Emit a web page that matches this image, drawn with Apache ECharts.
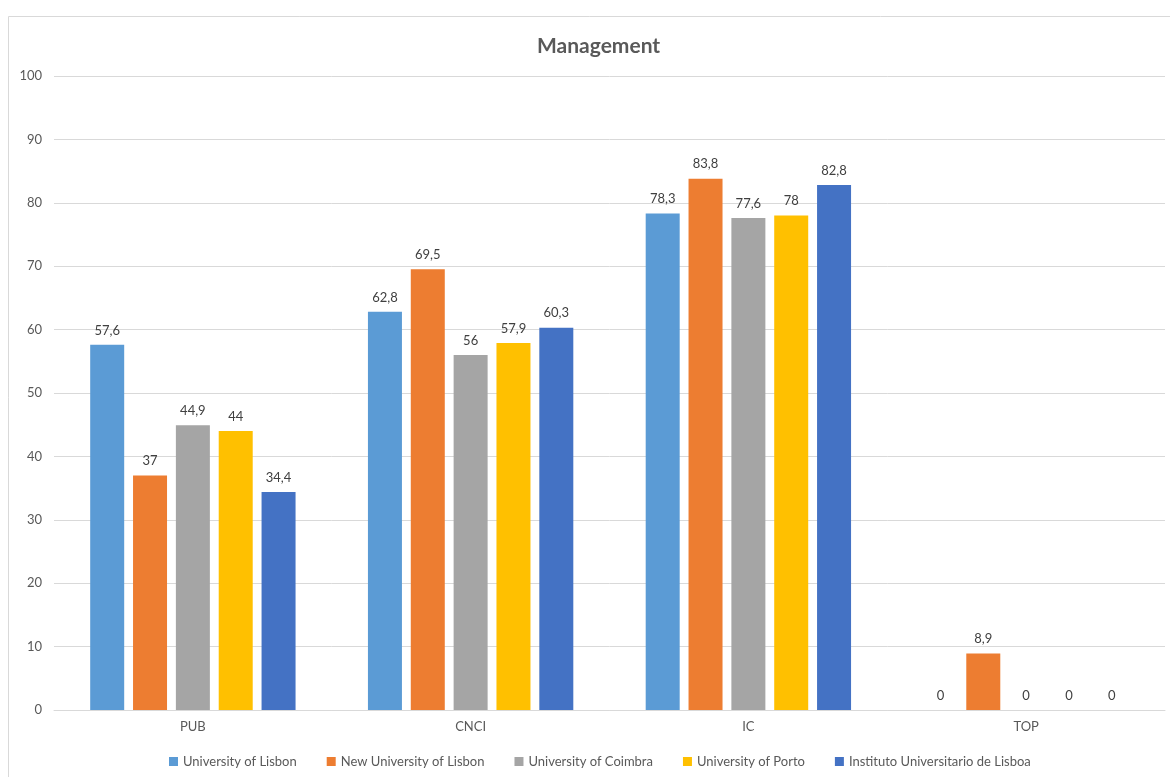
<!DOCTYPE html>
<html>
<head>
<meta charset="utf-8">
<script src="https://cdn.jsdelivr.net/npm/echarts@6/dist/echarts.min.js"></script>
<style>
html,body{margin:0;padding:0;background:#fff;}
#c{width:1170px;height:777px;}
</style>
</head>
<body>
<div id="c"></div>
<script>
const categories = ['PUB', 'CNCI', 'IC', 'TOP'];
const seriesNames = ['University of Lisbon', 'New University of Lisbon', 'University of Coimbra', 'University of Porto', 'Instituto Universitario de Lisboa'];
const uLisbon = [57.6, 62.8, 78.3, 0];
const newULisbon = [37, 69.5, 83.8, 8.9];
const uCoimbra = [44.9, 56, 77.6, 0];
const uPorto = [44, 57.9, 78, 0];
const iscte = [34.4, 60.3, 82.8, 0];
const colors = ['#5B9BD5', '#ED7D31', '#A5A5A5', '#FFC000', '#4472C4'];
const yTicks = { min: 0, max: 100, interval: 10 };

const values = [uLisbon, newULisbon, uCoimbra, uPorto, iscte];
const font = 'Lato, "Liberation Sans", sans-serif';

const chart = echarts.init(document.getElementById('c'), null, { renderer: 'canvas' });
chart.setOption({
  backgroundColor: '#fff',
  animation: false,
  textStyle: { fontFamily: font },
  graphic: [{
    type: 'rect',
    shape: { x: 8.5, y: 16.5, width: 1180, height: 800 },
    style: { fill: 'none', stroke: '#D9D9D9', lineWidth: 1 },
    silent: true
  }],
  title: {
    text: 'Management',
    left: 532,
    top: 31,
    textStyle: { fontFamily: font, fontSize: 21, fontWeight: 'bold', color: '#595959' }
  },
  legend: {
    bottom: 4,
    left: 164,
    icon: 'rect',
    itemWidth: 9,
    itemHeight: 9,
    itemGap: 30,
    textStyle: { fontFamily: font, fontSize: 13, color: '#595959' },
    data: seriesNames
  },
  grid: { left: 54, right: 5, top: 76, bottom: 67, containLabel: false },
  xAxis: {
    type: 'category',
    data: categories,
    axisLine: { lineStyle: { color: '#D9D9D9', width: 1 } },
    axisTick: { show: false },
    axisLabel: { fontFamily: font, fontSize: 13, color: '#595959', margin: 10 }
  },
  yAxis: {
    type: 'value',
    min: yTicks.min,
    max: yTicks.max,
    interval: yTicks.interval,
    axisLine: { show: false },
    axisTick: { show: false },
    axisLabel: { fontFamily: font, fontSize: 13, color: '#595959', margin: 12 },
    splitLine: { lineStyle: { color: '#D9D9D9', width: 1 } }
  },
  series: seriesNames.map((name, i) => ({
    name: name,
    type: 'bar',
    data: values[i],
    barWidth: 34,
    barGap: '26%',
    itemStyle: { color: colors[i] },
    label: {
      show: true,
      position: 'top',
      distance: 8,
      fontFamily: font,
      fontSize: 13,
      color: '#404040',
      formatter: p => String(p.value).replace('.', ',')
    }
  }))
});
</script>
</body>
</html>
